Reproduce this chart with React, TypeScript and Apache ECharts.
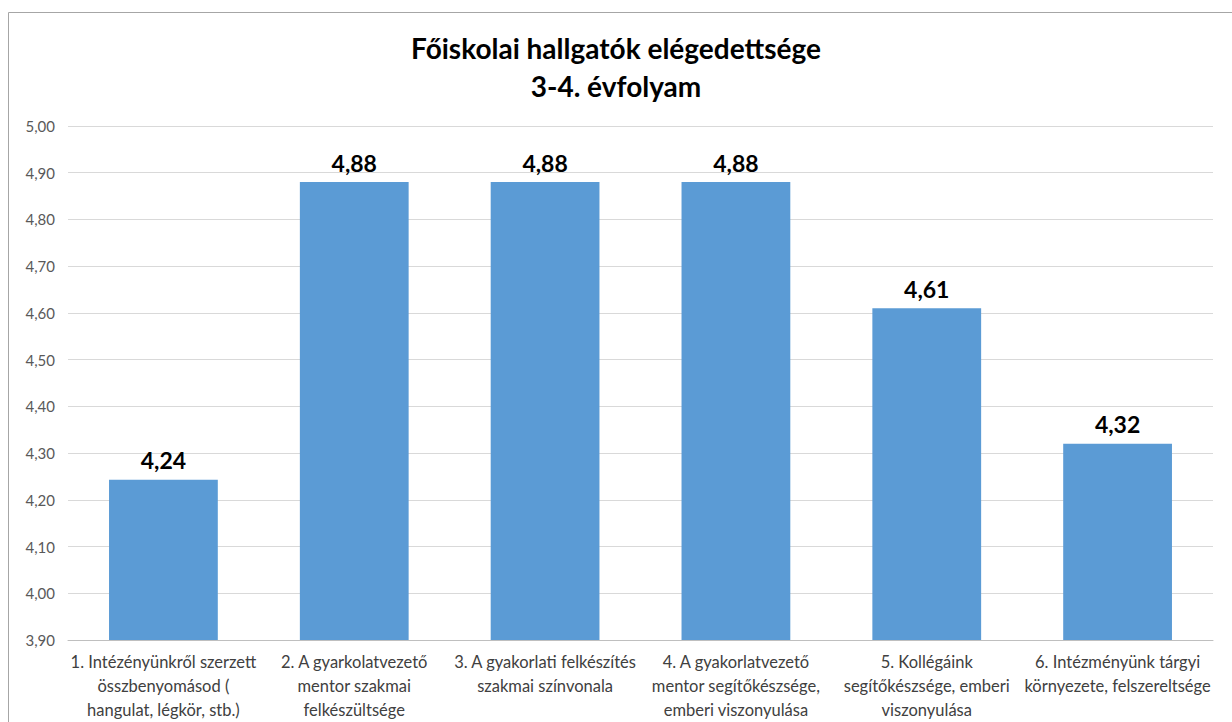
import React, { useEffect, useRef } from "react";
import * as echarts from "echarts";

const titleLines = ["Főiskolai hallgatók elégedettsége", "3-4. évfolyam"];
const categories = [
  "1. Intézényünkről szerzett\nösszbenyomásod (\nhangulat, légkör, stb.)",
  "2. A gyarkolatvezető\nmentor szakmai\nfelkészültsége",
  "3. A gyakorlati felkészítés\nszakmai színvonala",
  "4. A gyakorlatvezető\nmentor segítőkészsége,\nemberi viszonyulása",
  "5. Kollégáink\nsegítőkészsége, emberi\nviszonyulása",
  "6. Intézményünk tárgyi\nkörnyezete, felszereltsége",
];
const values = [4.243, 4.88, 4.88, 4.88, 4.61, 4.32];
const yMin = 3.9;
const yMax = 5.0;
const yInterval = 0.1;

const font = "Lato, 'Open Sans', sans-serif";

export default function App() {
  const ref = useRef<HTMLDivElement>(null);
  useEffect(() => {
    if (!ref.current) return;
    const chart = echarts.init(ref.current, undefined, { renderer: "svg" });
    chart.setOption({
      animation: false,
      backgroundColor: "#ffffff",
      title: {
        text: titleLines.join("\n"),
        left: "center",
        top: 24,
        textStyle: {
          fontFamily: font,
          fontSize: 28,
          fontWeight: "bold",
          color: "#000000",
          lineHeight: 38,
        },
      },
      graphic: [
        {
          type: "rect",
          shape: { x: 8.5, y: 12.5, width: 1300, height: 800 },
          style: { fill: "none", stroke: "#a6a6a6", lineWidth: 1 },
          silent: true,
        },
      ],
      grid: { left: 68, right: 19, top: 126, bottom: 75, containLabel: false },
      xAxis: {
        type: "category",
        data: categories,
        axisLine: { lineStyle: { color: "#bfbfbf" } },
        axisTick: { show: false },
        axisLabel: {
          interval: 0,
          margin: 10,
          fontFamily: font,
          fontSize: 16.5,
          lineHeight: 24,
          color: "#404040",
        },
      },
      yAxis: {
        type: "value",
        min: yMin,
        max: yMax,
        interval: yInterval,
        axisLine: { show: false },
        axisTick: { show: false },
        splitLine: { lineStyle: { color: "#d9d9d9" } },
        axisLabel: {
          margin: 13,
          fontFamily: font,
          fontSize: 15,
          color: "#595959",
          formatter: (v: number) => v.toFixed(2).replace(".", ","),
        },
      },
      series: [
        {
          type: "bar",
          data: values,
          barWidth: "57%",
          itemStyle: { color: "#5b9bd5" },
          label: {
            show: true,
            position: "top",
            distance: 8,
            fontFamily: font,
            fontSize: 23,
            fontWeight: "bold",
            color: "#000000",
            formatter: (p: any) => p.value.toFixed(2).replace(".", ","),
          },
        },
      ],
    });
    return () => chart.dispose();
  }, []);
  return (
    <div
      ref={ref}
      style={{ position: "fixed", left: 0, top: 0, width: 1232, height: 722 }}
    />
  );
}
